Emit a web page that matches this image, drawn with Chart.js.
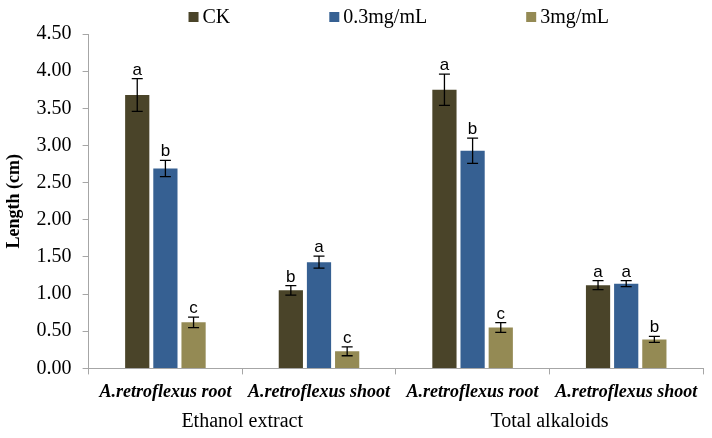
<!DOCTYPE html>
<html lang="en">
<head>
    <meta charset="UTF-8" />
    <title>Length (cm)</title>
    <script src="https://cdn.jsdelivr.net/npm/chart.js"></script>
    <style>
        html, body { margin: 0; padding: 0; background: #fff; }
        .chart-box { width: 712px; height: 438px; }
    </style>
</head>
<body>
    <div class="chart-box">
        <canvas id="lengthChart" width="712" height="438"></canvas>
    </div>
    <script>
        // data
        const categories = ['A.retroflexus root', 'A.retroflexus shoot', 'A.retroflexus root', 'A.retroflexus shoot'];
        const groups = ['Ethanol extract', 'Total alkaloids'];
        const groupSize = 2;
        const seriesNames = ['CK', '0.3mg/mL', '3mg/mL'];
        const seriesColors = ['#4a4429', '#366092', '#948a54'];

        const ckValues = [3.68, 1.05, 3.75, 1.12];
        const ckErrors = [0.22, 0.065, 0.21, 0.06];
        const ckLetters = ['a', 'b', 'a', 'a'];

        const lowValues = [2.69, 1.43, 2.93, 1.14];
        const lowErrors = [0.11, 0.08, 0.17, 0.04];
        const lowLetters = ['b', 'a', 'b', 'a'];

        const highValues = [0.62, 0.23, 0.55, 0.39];
        const highErrors = [0.07, 0.06, 0.065, 0.04];
        const highLetters = ['c', 'c', 'c', 'b'];

        const yMin = 0, yMax = 4.5, yStep = 0.5;

        const allValues = [ckValues, lowValues, highValues];
        const allErrors = [ckErrors, lowErrors, highErrors];
        const allLetters = [ckLetters, lowLetters, highLetters];

        const serif = "'Liberation Serif', 'Times New Roman', serif";
        const axisGray = '#a6a6a6';
        Chart.defaults.font.family = serif;

        // error bars + significance letters
        const errorBarPlugin = {
            id: 'errorBars',
            afterDatasetsDraw(chart) {
                const ctx = chart.ctx;
                const y = chart.scales.y;
                ctx.save();
                chart.data.datasets.forEach((ds, i) => {
                    const meta = chart.getDatasetMeta(i);
                    meta.data.forEach((bar, j) => {
                        const v = allValues[i][j], e = allErrors[i][j];
                        const top = y.getPixelForValue(v + e);
                        const bot = y.getPixelForValue(v - e);
                        ctx.strokeStyle = '#000';
                        ctx.lineWidth = 1.3;
                        ctx.beginPath();
                        ctx.moveTo(bar.x, top); ctx.lineTo(bar.x, bot);
                        ctx.moveTo(bar.x - 5.5, top); ctx.lineTo(bar.x + 5.5, top);
                        ctx.moveTo(bar.x - 5.5, bot); ctx.lineTo(bar.x + 5.5, bot);
                        ctx.stroke();
                        ctx.fillStyle = '#000';
                        ctx.font = "17px 'Liberation Sans', Arial, sans-serif";
                        ctx.textAlign = 'center';
                        ctx.textBaseline = 'alphabetic';
                        ctx.fillText(allLetters[i][j], bar.x, top - 4);
                    });
                });
                ctx.restore();
            }
        };

        // second row of x labels: one per group of categories
        const groupLabelPlugin = {
            id: 'groupLabels',
            afterDraw(chart) {
                const ctx = chart.ctx;
                const x = chart.scales.x;
                ctx.save();
                ctx.font = '20px ' + serif;
                ctx.fillStyle = '#000';
                ctx.textAlign = 'center';
                ctx.textBaseline = 'middle';
                groups.forEach((g, k) => {
                    const first = x.getPixelForTick(k * groupSize);
                    const last = x.getPixelForTick(k * groupSize + groupSize - 1);
                    ctx.fillText(g, (first + last) / 2, x.bottom + 12);
                });
                ctx.restore();
            }
        };

        // legend drawn above the plot, spaced like the original
        const topLegendPlugin = {
            id: 'topLegend',
            afterDraw(chart) {
                const ctx = chart.ctx;
                const area = chart.chartArea;
                const gap = 99, box = 10;
                ctx.save();
                ctx.font = '20px ' + serif;
                const widths = seriesNames.map(n => box + 4 + ctx.measureText(n).width);
                const total = widths.reduce((a, b) => a + b, 0) + gap * (seriesNames.length - 1);
                let x = (area.left + area.right) / 2 + 3 - total / 2;
                const yc = 17;
                seriesNames.forEach((n, i) => {
                    ctx.fillStyle = seriesColors[i];
                    ctx.fillRect(x, yc - box / 2, box, box);
                    ctx.fillStyle = '#000';
                    ctx.textAlign = 'left';
                    ctx.textBaseline = 'middle';
                    ctx.fillText(n, x + box + 4, yc + 1);
                    x += widths[i] + gap;
                });
                ctx.restore();
            }
        };

        const ctx = document.getElementById('lengthChart').getContext('2d');
        new Chart(ctx, {
            type: 'bar',
            data: {
                labels: categories,
                datasets: seriesNames.map((name, i) => ({
                    label: name,
                    data: allValues[i],
                    backgroundColor: seriesColors[i],
                    borderWidth: 0,
                    categoryPercentage: 0.55,
                    barPercentage: 0.86
                }))
            },
            options: {
                responsive: false,
                animation: false,
                layout: { padding: { top: 34, right: 9, left: 4, bottom: 28 } },
                plugins: {
                    legend: { display: false },
                    tooltip: { enabled: false }
                },
                scales: {
                    x: {
                        offset: true,
                        grid: { offset: true, drawOnChartArea: false, color: axisGray, tickLength: 6 },
                        border: { color: axisGray },
                        ticks: {
                            color: '#000',
                            padding: 7,
                            maxRotation: 0,
                            font: { family: serif, size: 18, weight: 'bold', style: 'italic' }
                        }
                    },
                    y: {
                        min: yMin,
                        max: yMax,
                        grid: { drawOnChartArea: false, color: axisGray, tickLength: 6 },
                        border: { color: axisGray },
                        ticks: {
                            stepSize: yStep,
                            color: '#000',
                            padding: 11,
                            font: { family: serif, size: 20 },
                            callback: v => Number(v).toFixed(2)
                        },
                        title: {
                            display: true,
                            text: 'Length (cm)',
                            color: '#000',
                            padding: { top: 0, bottom: 0 },
                            font: { family: serif, size: 18, weight: 'bold' }
                        }
                    }
                }
            },
            plugins: [errorBarPlugin, groupLabelPlugin, topLegendPlugin]
        });
    </script>
</body>
</html>
